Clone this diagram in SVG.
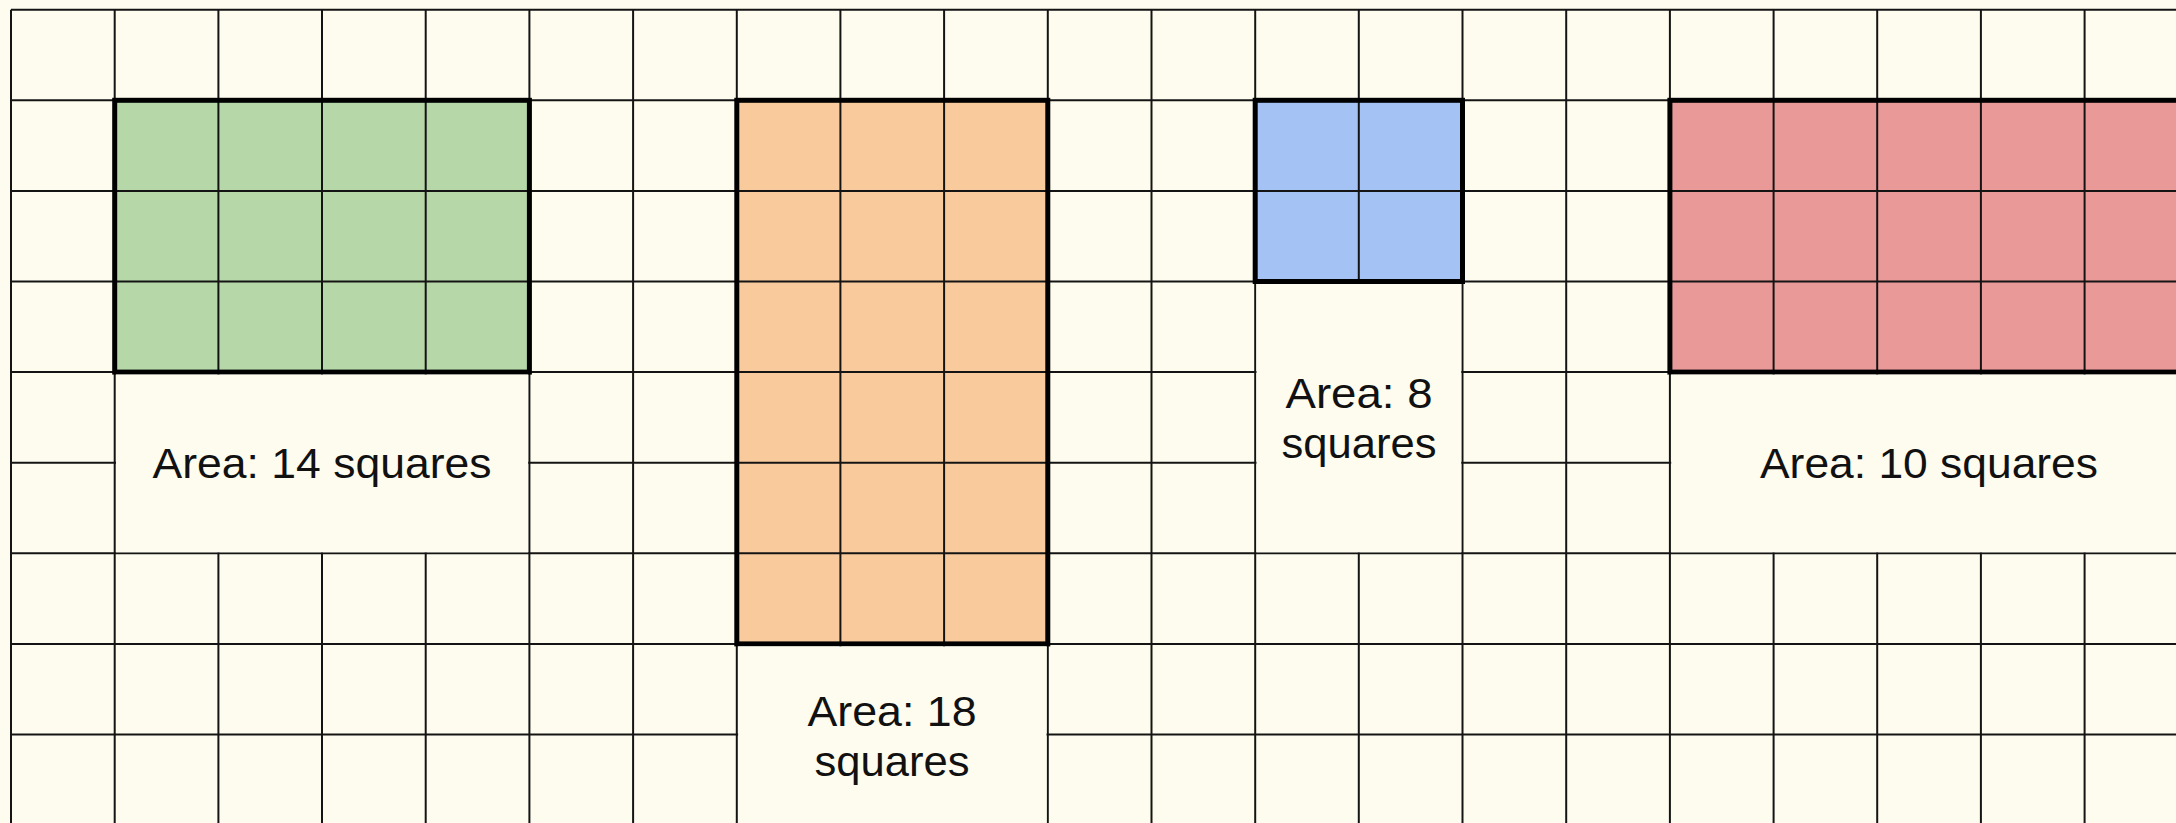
<svg xmlns="http://www.w3.org/2000/svg" width="2176" height="823" viewBox="0 0 2176 823">
<style>
.grid line{stroke:#141414;stroke-width:2}
.inner line{stroke:#141414;stroke-width:2}
.border{fill:none;stroke:#000;stroke-width:5}
.cover{fill:#FEFCEE;stroke:none}
.lbl{font-family:"Liberation Sans",Arial,sans-serif;font-size:42px;fill:#111;text-anchor:middle}
</style>
<rect x="0" y="0" width="2176" height="823" fill="#FEFCEE"/>
<g id="grid" class="grid">
<line x1="11" y1="9.7" x2="11" y2="823"/>
<line x1="114.7" y1="9.7" x2="114.7" y2="823"/>
<line x1="218.4" y1="9.7" x2="218.4" y2="823"/>
<line x1="322" y1="9.7" x2="322" y2="823"/>
<line x1="425.7" y1="9.7" x2="425.7" y2="823"/>
<line x1="529.4" y1="9.7" x2="529.4" y2="823"/>
<line x1="633.1" y1="9.7" x2="633.1" y2="823"/>
<line x1="736.8" y1="9.7" x2="736.8" y2="823"/>
<line x1="840.4" y1="9.7" x2="840.4" y2="823"/>
<line x1="944.1" y1="9.7" x2="944.1" y2="823"/>
<line x1="1047.8" y1="9.7" x2="1047.8" y2="823"/>
<line x1="1151.5" y1="9.7" x2="1151.5" y2="823"/>
<line x1="1255.2" y1="9.7" x2="1255.2" y2="823"/>
<line x1="1358.8" y1="9.7" x2="1358.8" y2="823"/>
<line x1="1462.5" y1="9.7" x2="1462.5" y2="823"/>
<line x1="1566.2" y1="9.7" x2="1566.2" y2="823"/>
<line x1="1669.9" y1="9.7" x2="1669.9" y2="823"/>
<line x1="1773.6" y1="9.7" x2="1773.6" y2="823"/>
<line x1="1877.2" y1="9.7" x2="1877.2" y2="823"/>
<line x1="1980.9" y1="9.7" x2="1980.9" y2="823"/>
<line x1="2084.6" y1="9.7" x2="2084.6" y2="823"/>
<line x1="11" y1="9.7" x2="2176" y2="9.7"/>
<line x1="11" y1="100.3" x2="2176" y2="100.3"/>
<line x1="11" y1="190.9" x2="2176" y2="190.9"/>
<line x1="11" y1="281.5" x2="2176" y2="281.5"/>
<line x1="11" y1="372.1" x2="2176" y2="372.1"/>
<line x1="11" y1="462.7" x2="2176" y2="462.7"/>
<line x1="11" y1="553.3" x2="2176" y2="553.3"/>
<line x1="11" y1="643.9" x2="2176" y2="643.9"/>
<line x1="11" y1="734.5" x2="2176" y2="734.5"/>
</g>
<g id="green">
<rect x="114.7" y="100.3" width="414.7" height="271.8" fill="#B6D7A8"/>
<g class="inner">
<line x1="218.4" y1="100.3" x2="218.4" y2="372.1"/>
<line x1="322" y1="100.3" x2="322" y2="372.1"/>
<line x1="425.7" y1="100.3" x2="425.7" y2="372.1"/>
<line x1="114.7" y1="190.9" x2="529.4" y2="190.9"/>
<line x1="114.7" y1="281.5" x2="529.4" y2="281.5"/>
</g>
<rect class="border" x="114.7" y="100.3" width="414.7" height="271.8"/>
<rect class="cover" x="116" y="374.6" width="412.1" height="177.7"/>
<text class="lbl" x="322" y="478" textLength="339" lengthAdjust="spacingAndGlyphs">Area: 14 squares</text>
</g>
<g id="orange">
<rect x="736.8" y="100.3" width="311" height="543.6" fill="#F9CB9C"/>
<g class="inner">
<line x1="840.4" y1="100.3" x2="840.4" y2="643.9"/>
<line x1="944.1" y1="100.3" x2="944.1" y2="643.9"/>
<line x1="736.8" y1="190.9" x2="1047.8" y2="190.9"/>
<line x1="736.8" y1="281.5" x2="1047.8" y2="281.5"/>
<line x1="736.8" y1="372.1" x2="1047.8" y2="372.1"/>
<line x1="736.8" y1="462.7" x2="1047.8" y2="462.7"/>
<line x1="736.8" y1="553.3" x2="1047.8" y2="553.3"/>
</g>
<rect class="border" x="736.8" y="100.3" width="311" height="543.6"/>
<rect class="cover" x="738.1" y="646.4" width="308.4" height="177"/>
<text class="lbl" x="892" y="726" textLength="169" lengthAdjust="spacingAndGlyphs">Area: 18</text>
<text class="lbl" x="892" y="776" textLength="155" lengthAdjust="spacingAndGlyphs">squares</text>
</g>
<g id="blue">
<rect x="1255.2" y="100.3" width="207.3" height="181.2" fill="#A4C2F4"/>
<g class="inner">
<line x1="1358.8" y1="100.3" x2="1358.8" y2="281.5"/>
<line x1="1255.2" y1="190.9" x2="1462.5" y2="190.9"/>
</g>
<rect class="border" x="1255.2" y="100.3" width="207.3" height="181.2"/>
<rect class="cover" x="1256.5" y="284" width="204.7" height="268.3"/>
<text class="lbl" x="1359" y="408" textLength="147" lengthAdjust="spacingAndGlyphs">Area: 8</text>
<text class="lbl" x="1359" y="458" textLength="155" lengthAdjust="spacingAndGlyphs">squares</text>
</g>
<g id="red">
<rect x="1669.9" y="100.3" width="518.4" height="271.8" fill="#EA9999"/>
<g class="inner">
<line x1="1773.6" y1="100.3" x2="1773.6" y2="372.1"/>
<line x1="1877.2" y1="100.3" x2="1877.2" y2="372.1"/>
<line x1="1980.9" y1="100.3" x2="1980.9" y2="372.1"/>
<line x1="2084.6" y1="100.3" x2="2084.6" y2="372.1"/>
<line x1="1669.9" y1="190.9" x2="2188.3" y2="190.9"/>
<line x1="1669.9" y1="281.5" x2="2188.3" y2="281.5"/>
</g>
<rect class="border" x="1669.9" y="100.3" width="518.4" height="271.8"/>
<rect class="cover" x="1671.2" y="374.6" width="515.8" height="177.7"/>
<text class="lbl" x="1929" y="478" textLength="338" lengthAdjust="spacingAndGlyphs">Area: 10 squares</text>
</g>
</svg>
